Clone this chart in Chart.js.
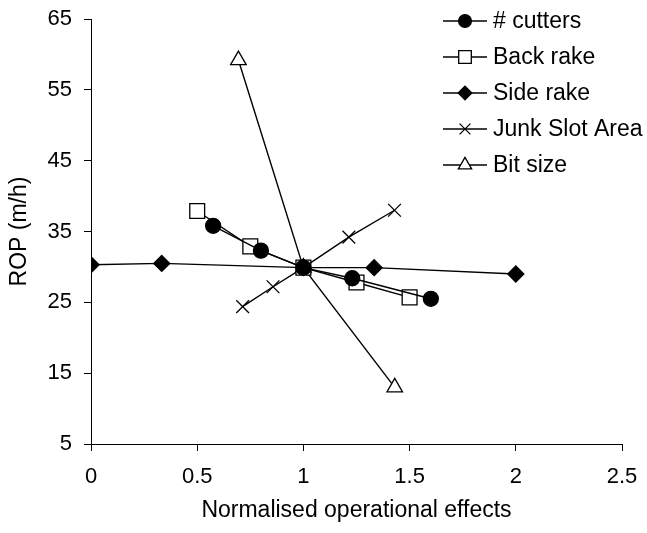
<!DOCTYPE html>
<html>
<head>
<meta charset="utf-8">
<script src="https://cdn.jsdelivr.net/npm/chart.js@4.4.1/dist/chart.umd.min.js"></script>
<style>
  html, body { margin: 0; background: #fff; }
  #wrap { width: 647px; height: 533px; }
</style>
</head>
<body>
<div id="wrap"><canvas id="ropChart"></canvas></div>
<script>
// ROP en fonction des effets opérationnels normalisés

const cuttersX = [0.575, 0.8, 1, 1.23, 1.6];
const cuttersY = [35.8, 32.3, 29.9, 28.4, 25.5];

const backRakeX = [0.5, 0.75, 1, 1.25, 1.5];
const backRakeY = [37.9, 32.9, 29.9, 27.8, 25.7];

const sideRakeX = [0, 0.333, 1, 1.333, 2];
const sideRakeY = [30.3, 30.5, 29.9, 29.9, 29.0];

const junkX = [0.714, 0.857, 1, 1.214, 1.429];
const junkY = [24.4, 27.2, 29.9, 34.2, 38.0];

const bitSizeX = [0.694, 1, 1.43];
const bitSizeY = [59.2, 29.9, 13.0];

const xTicks = [0, 0.5, 1, 1.5, 2, 2.5];
const yTicks = [5, 15, 25, 35, 45, 55, 65];

const police = '"Liberation Sans", Arial, sans-serif';
const noir = '#000';

const pts = (xs, ys) => xs.map((x, i) => ({ x, y: ys[i] }));

function serie(label, xs, ys, style, radius, fond) {
  return {
    label,
    data: pts(xs, ys),
    showLine: true,
    borderColor: noir,
    borderWidth: 1.4,
    pointStyle: style,
    pointRadius: radius,
    pointHoverRadius: radius,
    pointBackgroundColor: fond,
    pointBorderColor: noir,
    pointBorderWidth: 1.3,
  };
}

// Légende dessinée dans la zone du graphique (en haut à droite)
const legendeInterne = {
  id: 'legendeInterne',
  afterDatasetsDraw(chart) {
    const ctx = chart.ctx;
    ctx.save();
    ctx.font = '23px ' + police;
    ctx.textBaseline = 'middle';
    chart.data.datasets.forEach((ds, i) => {
      const y = 21 + i * 36;
      ctx.strokeStyle = noir;
      ctx.lineWidth = 1.3;
      ctx.beginPath();
      ctx.moveTo(443, y);
      ctx.lineTo(487, y);
      ctx.stroke();
      ctx.fillStyle = ds.pointBackgroundColor;
      Chart.helpers.drawPoint(ctx, {
        pointStyle: ds.pointStyle,
        radius: ds.pointRadius * 0.85,
        borderWidth: ds.pointBorderWidth,
        rotation: 0,
      }, 465, y);
      ctx.fillStyle = noir;
      ctx.fillText(ds.label, 493, y + 1);
    });
    ctx.restore();
  },
};

// Titre de l'axe X
const titreX = {
  id: 'titreX',
  afterDraw(chart) {
    const ctx = chart.ctx;
    const a = chart.chartArea;
    ctx.save();
    ctx.font = '23px ' + police;
    ctx.fillStyle = noir;
    ctx.textAlign = 'center';
    ctx.textBaseline = 'middle';
    ctx.fillText('Normalised operational effects', (a.left + a.right) / 2, 511);
    ctx.restore();
  },
};

Chart.defaults.font.family = police;
Chart.defaults.font.size = 22;
Chart.defaults.color = noir;

new Chart(document.getElementById('ropChart'), {
  type: 'scatter',
  data: {
    datasets: [
      serie('# cutters', cuttersX, cuttersY, 'circle', 7.5, noir),
      serie('Back rake', backRakeX, backRakeY, 'rect', 10.5, '#fff'),
      serie('Side rake', sideRakeX, sideRakeY, 'rectRot', 8, noir),
      serie('Junk Slot Area', junkX, junkY, 'crossRot', 9, noir),
      serie('Bit size', bitSizeX, bitSizeY, 'triangle', 9, '#fff'),
    ],
  },
  options: {
    responsive: true,
    maintainAspectRatio: false,
    animation: false,
    layout: { padding: { top: 19, right: 25, left: 0, bottom: 0 } },
    plugins: {
      legend: { display: false },
      tooltip: { enabled: false },
    },
    scales: {
      x: {
        type: 'linear',
        min: 0,
        max: 2.5,
        afterBuildTicks: (s) => { s.ticks = xTicks.map((v) => ({ value: v })); },
        afterFit: (s) => { s.height = 89; s.paddingLeft = 0; s.paddingRight = 0; },
        grid: { drawOnChartArea: false, color: noir, tickLength: 7 },
        border: { color: noir, width: 1 },
        ticks: { padding: 13, maxRotation: 0, callback: (v) => String(v) },
      },
      y: {
        type: 'linear',
        min: 5,
        max: 65,
        afterBuildTicks: (s) => { s.ticks = yTicks.map((v) => ({ value: v })); },
        afterFit: (s) => { s.width = 91; s.paddingTop = 0; s.paddingBottom = 0; },
        grid: { drawOnChartArea: false, color: noir, tickLength: 7 },
        border: { color: noir, width: 1 },
        ticks: { padding: 12 },
        title: { display: true, text: 'ROP (m/h)', font: { size: 23 }, padding: { top: 6, bottom: 0 } },
      },
    },
  },
  plugins: [legendeInterne, titreX],
});
</script>
</body>
</html>
